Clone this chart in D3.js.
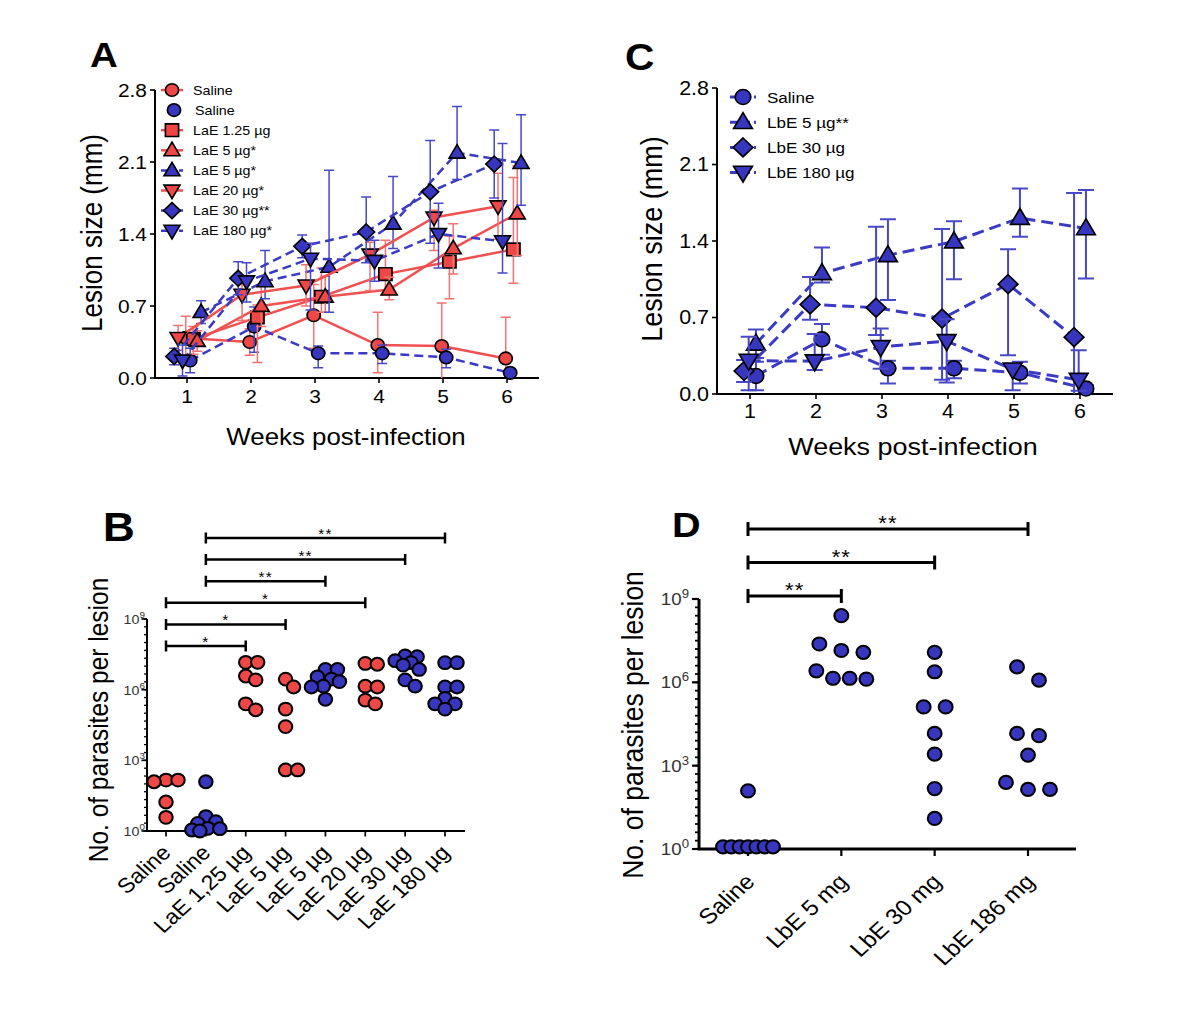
<!DOCTYPE html>
<html><head><meta charset="utf-8">
<script src="https://cdn.jsdelivr.net/npm/d3@7"></script>
<style>body{margin:0;background:#fff}svg{display:block}text{font-family:"Liberation Sans",Arial,sans-serif}</style>
</head><body><svg id="c" width="1200" height="1011"></svg>
<script>
// ---------------- DATA ----------------
const weeks = [1, 2, 3, 4, 5, 6];
const lesionTicks = [0, 0.7, 1.4, 2.1, 2.8];

// Panel A (L. amazonensis extract)
const aLabels = ["Saline", "Saline", "LaE 1.25 µg", "LaE 5 µg*", "LaE 5 µg*", "LaE 20 µg*", "LaE 30 µg**", "LaE 180 µg*"];
const aShift = [-0.02, 0.05, 0.10, 0.16, 0.22, -0.14, -0.20, -0.07]; // x-jitter (weeks)
const aMeans = [
  [0.39, 0.35, 0.61, 0.32, 0.31, 0.19],
  [0.17, 0.50, 0.24, 0.24, 0.20, 0.05],
  [0.38, 0.59, 0.79, 1.01, 1.13, 1.25],
  [0.36, 0.70, 0.79, 0.86, 1.26, 1.60],
  [0.64, 0.94, 1.08, 1.50, 2.19, 2.09],
  [0.39, 0.81, 0.90, 1.20, 1.56, 1.67],
  [0.21, 0.97, 1.28, 1.42, 1.81, 2.08],
  [0.17, 0.94, 1.16, 1.14, 1.40, 1.33]
];
const aErrUp = [
  [0.21, 0.13, 0.30, 0.32, 0.42, 0.40],
  [0.12, 0.19, 0.07, 0.08, 0.08, 0.04],
  [0.12, 0.12, 0.28, 0.33, 0.25, 0.70],
  [0.10, 0.20, 0.20, 0.12, 0.24, 0.46],
  [0.11, 0.30, 0.94, 0.46, 0.45, 0.47],
  [0.12, 0.10, 0.20, 0.12, 0.07, 0.32],
  [0.08, 0.16, 0.11, 0.34, 0.50, 0.33],
  [0.15, 0.18, 0.15, 0.20, 0.30, 0.95]
];
const aErrDown = [
  [0.20, 0.13, 0.32, 0.27, 0.31, 0.19],
  [0.12, 0.25, 0.14, 0.10, 0.10, 0.04],
  [0.15, 0.44, 0.15, 0.20, 0.36, 0.33],
  [0.10, 0.20, 0.15, 0.10, 0.25, 0.41],
  [0.11, 0.17, 0.44, 0.24, 0.26, 0.41],
  [0.12, 0.25, 0.20, 0.35, 0.32, 0.32],
  [0.08, 0.16, 0.11, 0.30, 0.50, 0.33],
  [0.15, 0.20, 0.50, 0.20, 0.33, 0.31]
];

// Panel C (L. braziliensis extract)
const cLabels = ["Saline", "LbE 5 µg**", "LbE 30 µg", "LbE 180 µg"];
const cShift = [0.09, 0.09, -0.09, -0.02];
const cMeans = [
  [0.165, 0.50, 0.235, 0.235, 0.195, 0.05],
  [0.46, 1.105, 1.27, 1.395, 1.61, 1.516],
  [0.21, 0.82, 0.79, 0.69, 1.005, 0.52],
  [0.305, 0.30, 0.43, 0.485, 0.225, 0.13]
];
const cErrUp = [
  [0.13, 0.14, 0.07, 0.07, 0.10, 0.03],
  [0.13, 0.235, 0.33, 0.185, 0.27, 0.35],
  [0.10, 0.25, 0.74, 0.82, 0.32, 1.32],
  [0.22, 0.25, 0.17, 0.20, 0.05, 0.27]
];
const cErrDown = [
  [0.13, 0.14, 0.14, 0.09, 0.10, 0.03],
  [0.13, 0.085, 0.41, 0.345, 0.17, 0.46],
  [0.10, 0.14, 0.25, 0.56, 0.65, 0.52],
  [0.27, 0.08, 0.20, 0.38, 0.19, 0.10]
];

// Panel B (parasites per lesion)
const bCats = ["Saline", "Saline", "LaE 1,25 µg", "LaE 5 µg", "LaE 5 µg", "LaE 20 µg", "LaE 30 µg", "LaE 180 µg"];
const bGroup = ["red", "blue", "red", "red", "blue", "red", "blue", "blue"];
const bValues = [
  [145, 123, 145, 17, 3.8],
  [123, 4.1, 2.5, 2.1, 1.3, 1.25, 1.1, 1.0],
  [1.45e7, 1.45e7, 3.8e6, 2.6e6, 1.4e5, 2.5e5],
  [2.8e6, 1.3e6, 1.5e5, 2.7e4, 390, 390],
  [7.2e6, 7.2e6, 3.5e6, 2.8e6, 2.2e6, 1.4e6, 1.3e6, 3.9e5],
  [1.3e7, 1.2e7, 1.3e6, 1.4e6, 2.5e5, 3.6e5],
  [2.7e7, 2.5e7, 1.7e7, 1.4e7, 1.1e7, 7.2e6, 2.6e6, 1.4e6],
  [1.4e7, 1.4e7, 1.3e6, 1.3e6, 4.3e5, 2.5e5, 2.5e5, 1.5e5]
];
const bComparisons = [[1, 7, "**"], [1, 6, "**"], [1, 4, "**"], [0, 5, "*"], [0, 3, "*"], [0, 2, "*"]];

// Panel D
const dCats = ["Saline", "LbE 5 mg", "LbE 30 mg", "LbE 186 mg"];
const dValues = [
  [123, 1.2, 1.2, 1.2, 1.2, 1.2, 1.2, 1.2],
  [2.5e8, 2.4e7, 1.4e7, 1.2e7, 2.6e6, 1.4e6, 1.3e6, 1.4e6],
  [1.2e7, 2.4e6, 1.3e5, 1.3e5, 1.45e4, 2.6e3, 150, 12.6],
  [3.6e6, 1.2e6, 1.45e4, 1.2e4, 2.4e3, 250, 140, 140]
];
const dComparisons = [[0, 3, "**"], [0, 2, "**"], [0, 1, "**"]];
const logMajor = [1, 1e3, 1e6, 1e9];
const logExp = ["0", "3", "6", "9"];

// ---------------- STYLE ----------------
const SX = 1.1;
const COL = {
  red: {fill: "#EF4646", line: "#F05050", err: "#F27272"},
  blue: {fill: "#3636BE", line: "#3A3AC4", err: "#4848C6"}
};
const aStyle = [
  {g: "red", shape: "circle", dash: false},
  {g: "blue", shape: "circle", dash: true, noLegendLine: true},
  {g: "red", shape: "square", dash: false},
  {g: "red", shape: "triUp", dash: false},
  {g: "blue", shape: "triUp", dash: true},
  {g: "red", shape: "triDown", dash: false},
  {g: "blue", shape: "diamond", dash: true},
  {g: "blue", shape: "triDown", dash: true}
];
const cStyle = [
  {g: "blue", shape: "circle"}, {g: "blue", shape: "triUp"},
  {g: "blue", shape: "diamond"}, {g: "blue", shape: "triDown"}
];

const svg = d3.select("#c");
svg.append("rect").attr("width", 1200).attr("height", 1011).attr("fill", "#fff");

function T(g, x, y, s, size, opt = {}) {
  const t = g.append("text")
    .attr("transform", `translate(${x},${y}) scale(${SX},1)` + (opt.rot ? ` rotate(${opt.rot})` : ""))
    .attr("font-size", size)
    .attr("text-anchor", opt.anchor || "start")
    .attr("fill", opt.fill || "#000");
  if (opt.weight) t.attr("font-weight", opt.weight);
  if (opt.ls) t.attr("letter-spacing", opt.ls);
  t.text(s);
  return t;
}

function shapePath(shape, k) {
  if (shape === "circle") { const r = 6.3 * k; return `M${-r},0a${r},${r} 0 1,0 ${2 * r},0a${r},${r} 0 1,0 ${-2 * r},0Z`; }
  if (shape === "square") { const a = 6.3 * k; return `M${-a},${-a}H${a}V${a}H${-a}Z`; }
  if (shape === "triUp") { const w = 7.6 * k, h = 13.5 * k; return `M0,${-h * 0.6}L${w},${h * 0.4}L${-w},${h * 0.4}Z`; }
  if (shape === "triDown") { const w = 7.6 * k, h = 13.5 * k; return `M0,${h * 0.6}L${w},${-h * 0.4}L${-w},${-h * 0.4}Z`; }
  if (shape === "diamond") { const s = 8 * k; return `M0,${-s}L${s},0L0,${s}L${-s},0Z`; }
}
function marker(g, x, y, shape, fill, k, sw) {
  g.append("path").attr("d", shapePath(shape, k))
    .attr("transform", `translate(${x},${y}) scale(${SX / 1.05},1)`)
    .attr("fill", fill).attr("stroke", "#000").attr("stroke-width", sw);
}

// ---------------- LINE PANELS ----------------
function linePanel(o) {
  const g = svg.append("g");
  const x = d3.scaleLinear([0.5, 6.5], o.xr), y = d3.scaleLinear([0, 2.8], o.yr);
  g.append("path").attr("d", `M${o.xr[0]},${o.yr[1]}V${o.yr[0]}H${o.xr[1]}`).attr("fill", "none").attr("stroke", "#000").attr("stroke-width", 2);
  lesionTicks.forEach(t => {
    g.append("line").attr("x1", o.xr[0] - 5).attr("x2", o.xr[0]).attr("y1", y(t)).attr("y2", y(t)).attr("stroke", "#000").attr("stroke-width", 1.6);
    T(g, o.xr[0] - 8, y(t) + 6.5, d3.format(".1f")(t), o.tickFont, {anchor: "end"});
  });
  weeks.forEach(w => {
    g.append("line").attr("x1", x(w)).attr("x2", x(w)).attr("y1", o.yr[0]).attr("y2", o.yr[0] + 5).attr("stroke", "#000").attr("stroke-width", 1.6);
    T(g, x(w), o.yr[0] + o.xlabOff, String(w), o.tickFont, {anchor: "middle"});
  });
  T(g, o.xTitle[0], o.xTitle[1], "Weeks post-infection", o.xTitleFont, {anchor: "middle"});
  T(g, o.yTitle[0], o.yTitle[1], "Lesion size (mm)", o.yTitleFont, {anchor: "middle", rot: -90});
  T(g, o.panel[0], o.panel[1], o.panel[2], o.panel[3], {weight: "bold"});

  o.means.forEach((m, si) => {
    const st = o.style[si], c = COL[st.g];
    const xs = weeks.map(w => x(w + o.shift[si]));
    m.forEach((v, i) => {
      const hi = y(v + o.up[si][i]), lo = y(Math.max(0, v - o.down[si][i]));
      g.append("path").attr("d", `M${xs[i]},${lo}V${hi}M${xs[i] - o.cap},${hi}H${xs[i] + o.cap}` + (v - o.down[si][i] > 0 ? `M${xs[i] - o.cap},${lo}H${xs[i] + o.cap}` : ""))
        .attr("fill", "none").attr("stroke", c.err).attr("stroke-width", o.errW);
    });
    const line = d3.line().x((d, i) => xs[i]).y(d => y(d));
    g.append("path").attr("d", line(m)).attr("fill", "none").attr("stroke", c.line)
      .attr("stroke-width", o.lineW).attr("stroke-dasharray", (st.dash || o.allDash) ? o.dash : null);
    m.forEach((v, i) => marker(g, xs[i], y(v), st.shape, c.fill, o.mk, 1.6));
  });
  o.labels.forEach((lab, si) => {
    const st = o.style[si], c = COL[st.g];
    const ly = o.leg.y0 + si * o.leg.step;
    const sx = st.noLegendLine ? o.leg.sx + 2 : o.leg.sx;
    if (!st.noLegendLine) {
      g.append("line").attr("x1", o.leg.sx - o.leg.half).attr("x2", o.leg.sx + o.leg.half).attr("y1", ly).attr("y2", ly)
        .attr("stroke", c.line).attr("stroke-width", o.lineW).attr("stroke-dasharray", (st.dash || o.allDash) ? o.legDash : null);
    }
    marker(g, sx, ly, st.shape, c.fill, o.mk, 1.6);
    T(g, o.leg.tx + (st.noLegendLine ? 2 : 0), ly + o.leg.font * 0.36, lab, o.leg.font);
  });
}

linePanel({
  xr: [155, 539], yr: [378, 90], tickFont: 19, xlabOff: 25,
  xTitle: [346, 445], xTitleFont: 23.5, yTitle: [102, 233], yTitleFont: 26,
  panel: [90, 67, "A", 35],
  means: aMeans, up: aErrUp, down: aErrDown, shift: aShift, style: aStyle, labels: aLabels,
  cap: 5, errW: 1.5, lineW: 2.5, dash: "9,5", legDash: "6,3", mk: 1.0,
  leg: {y0: 90, step: 20.1, sx: 172, half: 11, tx: 193, font: 13}
});
linePanel({
  xr: [717, 1113], yr: [394, 88], tickFont: 19.5, xlabOff: 24,
  xTitle: [913, 455], xTitleFont: 24.5, yTitle: [662, 239], yTitleFont: 27,
  panel: [625, 70, "C", 37],
  means: cMeans, up: cErrUp, down: cErrDown, shift: cShift, style: cStyle, labels: cLabels, allDash: true,
  cap: 8, errW: 2, lineW: 3, dash: "12,6", legDash: "8,4", mk: 1.18,
  leg: {y0: 97, step: 25.2, sx: 743, half: 13, tx: 767, font: 15.5}
});

// ---------------- DOT PANELS ----------------
// row layout: points with close values share a row, centred around the category
function rowSwarm(values, y, o) {
  const pts = values.map((v, i) => ({v, y: y(v), i}));
  const sorted = pts.slice().sort((a, b) => a.y - b.y);
  const rows = []; let cur = null;
  for (const p of sorted) { if (cur && p.y - cur[0].y < o.thresh) cur.push(p); else { cur = [p]; rows.push(cur); } }
  rows.forEach(r => { const n = r.length, sp = n > 1 ? Math.min(o.step, o.maxW / (n - 1)) : 0; r.forEach((p, k) => p.dx = (k - (n - 1) / 2) * sp); });
  return pts;
}
// greedy layout: each point takes the nearest free horizontal offset
function greedySwarm(values, y, o) {
  const pts = values.map(v => ({v, y: y(v)})).sort((a, b) => a.y - b.y);
  const cands = [0];
  for (let k = 1; k * o.fine <= o.maxHalf + 1e-6; k++) cands.push(k * o.fine, -k * o.fine);
  const placed = [];
  pts.forEach(p => {
    let best = 0, bestScore = -1;
    for (const c of cands) {
      let md = Infinity;
      for (const q of placed) md = Math.min(md, Math.hypot(c - q.dx, p.y - q.y));
      if (md >= o.minD) { best = c; bestScore = Infinity; break; }
      if (md > bestScore) { bestScore = md; best = c; }
    }
    p.dx = best; placed.push(p);
  });
  return pts;
}

function dotPanel(o) {
  const g = svg.append("g");
  const y = d3.scaleLog([1, 1e9], o.yr);
  const x = d3.scalePoint(d3.range(o.cats.length), o.xr);
  for (let j = 0; j <= 9 * o.minorPerMajor / 3; j++) {
    const yy = y(Math.pow(10, j * 3 / o.minorPerMajor));
    g.append("line").attr("x1", o.axX - o.minorLen).attr("x2", o.axX).attr("y1", yy).attr("y2", yy).attr("stroke", "#000").attr("stroke-width", o.tickW);
  }
  logMajor.forEach((t, k) => {
    g.append("line").attr("x1", o.axX - o.majorLen).attr("x2", o.axX).attr("y1", y(t)).attr("y2", y(t)).attr("stroke", "#000").attr("stroke-width", o.tickW + 0.4);
    const tx = g.append("text").attr("transform", `translate(${o.axX - o.labGap},${y(t) + o.labDy}) scale(${SX},1)`)
      .attr("text-anchor", "end").attr("font-size", o.labFont).attr("fill", "#333");
    tx.append("tspan").text("10");
    tx.append("tspan").attr("font-size", o.supFont).attr("dy", -o.supRaise).text(logExp[k]);
  });
  g.append("path").attr("d", `M${o.axX},${o.yr[1]}V${o.yr[0]}H${o.axEnd}`).attr("fill", "none").attr("stroke", "#000").attr("stroke-width", o.axW);
  o.cats.forEach((c, i) => {
    g.append("line").attr("x1", x(i)).attr("x2", x(i)).attr("y1", o.yr[0]).attr("y2", o.yr[0] + o.majorLen).attr("stroke", "#000").attr("stroke-width", o.tickW + 0.4);
    T(g, x(i) + o.catDx, o.yr[0] + o.catDy, c, o.catFont, {anchor: "end", rot: -45});
  });
  T(g, o.yTitle[0], o.yTitle[1], "No. of parasites per lesion", o.yTitleFont, {anchor: "middle", rot: -90});
  T(g, o.panel[0], o.panel[1], o.panel[2], o.panel[3], {weight: "bold"});
  o.comps.forEach((c, k) => {
    const by = o.compY0 + k * o.compStep, x1 = x(c[0]), x2 = x(c[1]);
    g.append("path").attr("d", `M${x1},${by}H${x2}M${x1},${by - o.capH}V${by + o.capH}M${x2},${by - o.capH}V${by + o.capH}`)
      .attr("fill", "none").attr("stroke", "#000").attr("stroke-width", o.compW);
    T(g, (x1 + x2) / 2, by + 1, c[2], o.starFont, {anchor: "middle", ls: 1});
  });
  o.values.forEach((vals, i) => {
    const fill = COL[o.group ? o.group[i] : "blue"].fill;
    const pts = o.layout === "greedy" ? greedySwarm(vals, y, o) : rowSwarm(vals, y, o);
    pts.forEach(p => {
      g.append("circle").attr("transform", `translate(${x(i) + p.dx},${p.y}) scale(${SX / 1.05},1)`)
        .attr("r", o.r).attr("fill", fill).attr("stroke", "#000").attr("stroke-width", o.dotSW);
    });
  });
}

dotPanel({
  cats: bCats, group: bGroup, values: bValues, comps: bComparisons,
  yr: [831, 619], xr: [166, 445], axX: 147, axEnd: 465, axW: 2, tickW: 1.3,
  minorPerMajor: 9, minorLen: 3, majorLen: 5.5, labGap: 2, labDy: 5, labFont: 13, supFont: 9, supRaise: 6,
  catFont: 21, catDx: 6, catDy: 23,
  yTitle: [108, 720], yTitleFont: 24.5, panel: [103, 541, "B", 40],
  compY0: 538, compStep: 21.6, capH: 5.5, compW: 2.5, starFont: 14,
  r: 6.4, dotSW: 2, layout: "greedy", minD: 10.5, fine: 2, maxHalf: 15
});
dotPanel({
  cats: dCats, values: dValues, comps: dComparisons,
  yr: [849, 599], xr: [748, 1028], axX: 699, axEnd: 1076, axW: 3, tickW: 1.8,
  minorPerMajor: 10, minorLen: 4, majorLen: 7, labGap: 10, labDy: 6, labFont: 17, supFont: 12, supRaise: 7,
  catFont: 22, catDx: 8, catDy: 34,
  yTitle: [643, 725], yTitleFont: 26.5, panel: [672, 537, "D", 36],
  compY0: 529, compStep: 33.5, capH: 7, compW: 3, starFont: 20,
  r: 6.6, dotSW: 2, layout: "rows", step: 22, maxW: 50, thresh: 14
});
</script>
</body></html>
